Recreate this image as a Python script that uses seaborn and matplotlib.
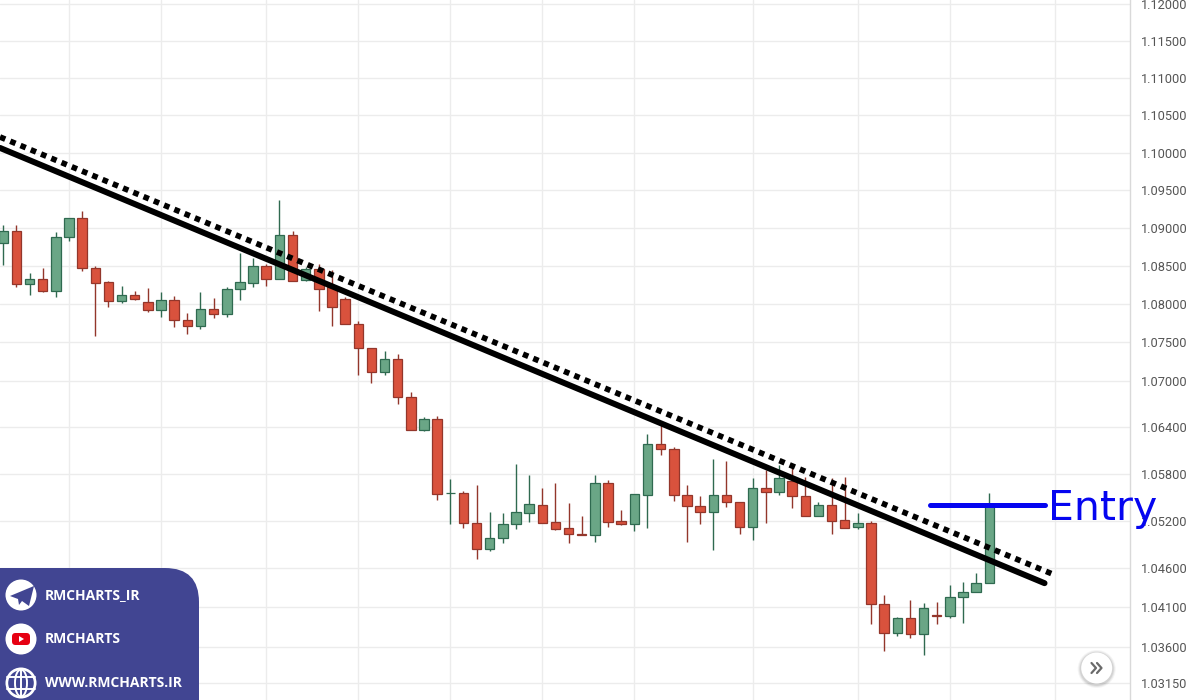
import numpy as np
import pandas as pd
import matplotlib
matplotlib.use('Agg')
import matplotlib.pyplot as plt
import seaborn as sns
from matplotlib.patches import Circle, FancyBboxPatch, Polygon, Ellipse
from matplotlib.ticker import NullLocator

# candles
opens = [1.08797, 1.08961, 1.08263, 1.08328, 1.08175, 1.08885, 1.09128, 1.08477, 1.08285, 1.08044,
         1.08122, 1.08030, 1.07922, 1.08049, 1.07795, 1.07717, 1.07931, 1.07866, 1.08193, 1.08280,
         1.08503, 1.08324, 1.08903, 1.08311, 1.08459, 1.08228, 1.08062, 1.07735, 1.07430, 1.07110,
         1.07283, 1.06790, 1.06368, 1.06502, 1.05550, 1.05551, 1.05176, 1.04846, 1.04978, 1.05159,
         1.05304, 1.05406, 1.05181, 1.05105, 1.05036, 1.05016, 1.05679, 1.05193, 1.05155, 1.05533,
         1.06183, 1.06123, 1.05533, 1.05389, 1.05316, 1.05535, 1.05437, 1.05117, 1.05622, 1.05571,
         1.05712, 1.05520, 1.05257, 1.05406, 1.05206, 1.05117, 1.05176, 1.04149, 1.03784, 1.03965,
         1.03771, 1.04003, 1.03995, 1.04234, 1.04293, 1.04407]
highs = [1.09040, 1.09040, 1.08402, 1.08477, 1.08943, 1.09128, 1.09229, 1.08495, 1.08306, 1.08240,
         1.08167, 1.08210, 1.08154, 1.08105, 1.07887, 1.08154, 1.08079, 1.08228, 1.08666, 1.08600,
         1.08525, 1.09371, 1.08965, 1.08490, 1.08521, 1.08446, 1.08096, 1.07782, 1.07430, 1.07391,
         1.07344, 1.06850, 1.06528, 1.06545, 1.05730, 1.05576, 1.05652, 1.05309, 1.05296, 1.05927,
         1.05786, 1.05615, 1.05679, 1.05423, 1.05265, 1.05782, 1.05721, 1.05338, 1.05546, 1.06312,
         1.06428, 1.06148, 1.05652, 1.05513, 1.05987, 1.05969, 1.05437, 1.05743, 1.05850, 1.05914,
         1.05871, 1.05760, 1.05437, 1.05743, 1.05764, 1.05296, 1.05201, 1.04255, 1.03986, 1.04196,
         1.04154, 1.04171, 1.04382, 1.04424, 1.04537, 1.05551]
lows = [1.08512, 1.08220, 1.08115, 1.08162, 1.08096, 1.08832, 1.08437, 1.07586, 1.07965, 1.08010,
        1.08057, 1.07892, 1.07835, 1.07700, 1.07612, 1.07674, 1.07821, 1.07835, 1.08053, 1.08228,
        1.08240, 1.08324, 1.08306, 1.08306, 1.07909, 1.07717, 1.07735, 1.07075, 1.06975, 1.07075,
        1.06699, 1.06368, 1.06347, 1.05462, 1.05155, 1.05105, 1.04715, 1.04816, 1.04914, 1.05100,
        1.05188, 1.05172, 1.05087, 1.04914, 1.05016, 1.04927, 1.05125, 1.05143, 1.05070, 1.05113,
        1.06046, 1.05457, 1.04927, 1.05155, 1.04829, 1.05370, 1.05030, 1.04956, 1.05176, 1.05529,
        1.05359, 1.05257, 1.05257, 1.05028, 1.05105, 1.05092, 1.03894, 1.03546, 1.03739, 1.03713,
        1.03505, 1.03894, 1.03965, 1.03910, 1.04293, 1.04407]
closes = [1.08961, 1.08263, 1.08328, 1.08175, 1.08885, 1.09128, 1.08469, 1.08280, 1.08044, 1.08118,
          1.08070, 1.07922, 1.08049, 1.07795, 1.07717, 1.07931, 1.07866, 1.08193, 1.08285, 1.08503,
          1.08324, 1.08903, 1.08306, 1.08459, 1.08193, 1.07957, 1.07735, 1.07430, 1.07110, 1.07283,
          1.06790, 1.06368, 1.06502, 1.05546, 1.05552, 1.05176, 1.04846, 1.04978, 1.05163, 1.05309,
          1.05411, 1.05172, 1.05100, 1.05028, 1.05016, 1.05679, 1.05188, 1.05155, 1.05538, 1.06183,
          1.06119, 1.05529, 1.05389, 1.05316, 1.05533, 1.05444, 1.05117, 1.05622, 1.05571, 1.05751,
          1.05520, 1.05257, 1.05406, 1.05201, 1.05112, 1.05176, 1.04149, 1.03784, 1.03965, 1.03771,
          1.04095, 1.03995, 1.04238, 1.04293, 1.04407, 1.05402]

price_ticks = [1.12, 1.115, 1.11, 1.105, 1.10, 1.095, 1.09, 1.085, 1.08, 1.075, 1.07,
               1.064, 1.058, 1.052, 1.046, 1.041, 1.036, 1.0315]
price_labels = ['1.12000', '1.11500', '1.11000', '1.10500', '1.10000', '1.09500', '1.09000',
                '1.08500', '1.08000', '1.07500', '1.07000', '1.06400', '1.05800', '1.05200',
                '1.04600', '1.04100', '1.03600', '1.03150']
time_ticks = [5, 12, 20, 27, 34, 41, 48, 57, 65, 72, 80]

trend_x = [-0.25, 79.2]
trend_y = [1.10063, 1.04407]
channel_x = [-0.25, 79.8]
channel_y = [1.10209, 1.04523]
entry_x = [70.5, 79.2]
entry_y = [1.05402, 1.05402]

RED = '#d9523d'
RED_EDGE = '#93362b'
GREEN = '#6aa686'
GREEN_EDGE = '#2f6a50'
PANEL = '#414592'

sns.set_theme(style='whitegrid')
plt.rcParams['font.family'] = ['Roboto', 'DejaVu Sans']

df = pd.DataFrame({'open': opens, 'high': highs, 'low': lows, 'close': closes})
df['idx'] = df.index
df['up'] = df['close'] >= df['open']

fig = plt.figure(figsize=(12, 7), dpi=100, facecolor='white')
ax = fig.add_axes([0, 0, 1130 / 1200, 1])
ax.set_facecolor('white')
ax.set_yscale('log')
ax.set_xlim(-0.25, 85.7)
ax.set_ylim(1.02939, 1.12054)

# wicks and bodies
wick_colors = [GREEN_EDGE if u else RED_EDGE for u in df['up']]
ax.vlines(df['idx'], df['low'], df['high'], colors=wick_colors, linewidth=1.0, zorder=2)
body_low = df[['open', 'close']].min(axis=1)
body_high = df[['open', 'close']].max(axis=1)
ax.bar(df['idx'], body_high - body_low, bottom=body_low, width=0.72,
       color=[GREEN if u else RED for u in df['up']],
       edgecolor=wick_colors, linewidth=0.9, zorder=3)

sns.lineplot(x=trend_x, y=trend_y, ax=ax, color='black', linewidth=4.3, zorder=5,
             solid_capstyle='round', errorbar=None)
sns.lineplot(x=channel_x, y=channel_y, ax=ax, color='black', linewidth=4.1, zorder=5,
             linestyle=(0, (1.0, 0.95)), dash_capstyle='butt', errorbar=None)
sns.lineplot(x=entry_x, y=entry_y, ax=ax, color='#0505f0', linewidth=3.6, zorder=6,
             solid_capstyle='round', errorbar=None)
ax.text(79.45, 1.05402, 'Entry', color='#0505f0', fontsize=29.5, family='DejaVu Sans',
        va='center_baseline', ha='left', zorder=7, clip_on=False)

ax.yaxis.tick_right()
ax.set_yticks(price_ticks)
ax.set_yticklabels(price_labels, fontsize=9.2, color='#555555')
ax.yaxis.set_minor_locator(NullLocator())
ax.set_xticks(time_ticks)
ax.set_xticklabels([])
ax.tick_params(axis='both', length=0, pad=8)
ax.grid(True, color='#ececec', linewidth=1.0)
ax.set_axisbelow(True)
for name, spine in ax.spines.items():
    spine.set_visible(name == 'right')
ax.spines['right'].set_color('#d9d9d9')
ax.spines['right'].set_linewidth(1.0)

# overlay in image pixels: panel with the channel names and the scroll button
over = fig.add_axes([0, 0, 1, 1], zorder=10)
over.set_xlim(0, 1200)
over.set_ylim(700, 0)
over.axis('off')
over.patch.set_alpha(0)

over.add_patch(FancyBboxPatch((-60, 568), 259, 200, boxstyle='round,pad=0,rounding_size=34',
                              fc=PANEL, ec='none'))
for cy in [595, 639, 683]:
    over.add_patch(Circle((21, cy), 15.5, fc='white', ec='none'))

# telegram
over.add_patch(Polygon([[10, 596], [34, 586], [29, 606], [22, 601], [19, 605], [18, 599]],
                       fc=PANEL, ec='none'))
# youtube
over.add_patch(FancyBboxPatch((12, 633), 18, 12, boxstyle='round,pad=0,rounding_size=3.5',
                              fc='#e60012', ec='none'))
over.add_patch(Polygon([[19, 636], [19, 642], [24, 639]], fc='white', ec='none'))
# globe
over.add_patch(Circle((21, 683), 13.5, fc=PANEL, ec='white', lw=1))
over.add_patch(Ellipse((21, 683), 12, 27, fc='none', ec='white', lw=1.4))
over.plot([7, 35], [677, 677], color='white', lw=1.4)
over.plot([7, 35], [689, 689], color='white', lw=1.4)
over.plot([21, 21], [669, 697], color='white', lw=1.4)

for label, cy in zip(['RMCHARTS_IR', 'RMCHARTS', 'WWW.RMCHARTS.IR'], [595, 639, 683]):
    over.text(45, cy, label, color='white', fontsize=10, fontweight='bold',
              family='Open Sans', va='center', ha='left')

# scroll button
for r, a in zip([19, 18, 17], [0.04, 0.06, 0.08]):
    over.add_patch(Circle((1096.7, 669), r, fc='black', alpha=a, ec='none'))
over.add_patch(Circle((1096.7, 668), 15.5, fc='white', ec='none'))
for dx in [0, 5.5]:
    over.plot([1091.5 + dx, 1096 + dx, 1091.5 + dx], [663, 668, 673],
              color='#6a6a6a', lw=1.6, solid_capstyle='round')

fig.savefig('out.png', dpi=100)
